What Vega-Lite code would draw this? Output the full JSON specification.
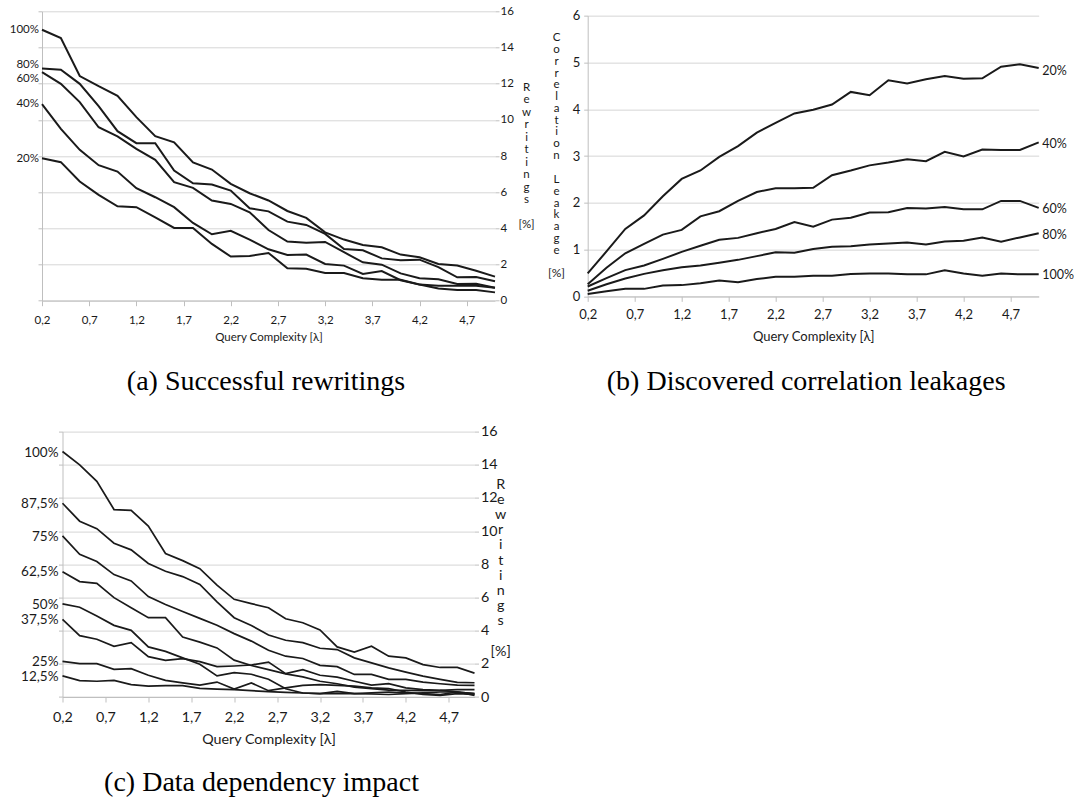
{
"$schema":"https://vega.github.io/schema/vega-lite/v6.json",
"background":"white",
"padding":{"left":9,"top":5,"right":0,"bottom":0},
"config":{"view":{"stroke":null},"font":"Lato","axis":{"labelFont":"Lato","titleFont":"Lato","labelColor":"#1a1a1a","titleColor":"#1a1a1a","titleFontWeight":"normal"}},
"columns":2,
"spacing":{"row":130.6,"column":92.7},
"bounds":"flush",
"center":true,
"datasets":{
"a":[
{"x":0.2,"s":"100%","v":14.98},{"x":0.4,"s":"100%","v":14.52},{"x":0.6,"s":"100%","v":12.42},{"x":0.8,"s":"100%","v":11.86},{"x":1.0,"s":"100%","v":11.33},{"x":1.2,"s":"100%","v":10.15},{"x":1.4,"s":"100%","v":9.10},{"x":1.6,"s":"100%","v":8.76},{"x":1.8,"s":"100%","v":7.64},{"x":2.0,"s":"100%","v":7.25},{"x":2.2,"s":"100%","v":6.46},{"x":2.4,"s":"100%","v":5.94},{"x":2.6,"s":"100%","v":5.54},{"x":2.8,"s":"100%","v":4.96},{"x":3.0,"s":"100%","v":4.58},{"x":3.2,"s":"100%","v":3.78},{"x":3.4,"s":"100%","v":3.38},{"x":3.6,"s":"100%","v":3.08},{"x":3.8,"s":"100%","v":2.95},{"x":4.0,"s":"100%","v":2.55},{"x":4.2,"s":"100%","v":2.40},{"x":4.4,"s":"100%","v":2.03},{"x":4.6,"s":"100%","v":1.94},{"x":4.8,"s":"100%","v":1.66},{"x":5.0,"s":"100%","v":1.33},
{"x":0.2,"s":"80%","v":12.84},{"x":0.4,"s":"80%","v":12.77},{"x":0.6,"s":"80%","v":11.99},{"x":0.8,"s":"80%","v":10.76},{"x":1.0,"s":"80%","v":9.37},{"x":1.2,"s":"80%","v":8.71},{"x":1.4,"s":"80%","v":8.71},{"x":1.6,"s":"80%","v":7.20},{"x":1.8,"s":"80%","v":6.49},{"x":2.0,"s":"80%","v":6.42},{"x":2.2,"s":"80%","v":6.09},{"x":2.4,"s":"80%","v":5.11},{"x":2.6,"s":"80%","v":4.94},{"x":2.8,"s":"80%","v":4.37},{"x":3.0,"s":"80%","v":4.19},{"x":3.2,"s":"80%","v":3.69},{"x":3.4,"s":"80%","v":2.86},{"x":3.6,"s":"80%","v":2.79},{"x":3.8,"s":"80%","v":2.34},{"x":4.0,"s":"80%","v":2.23},{"x":4.2,"s":"80%","v":2.27},{"x":4.4,"s":"80%","v":1.86},{"x":4.6,"s":"80%","v":1.29},{"x":4.8,"s":"80%","v":1.31},{"x":5.0,"s":"80%","v":1.07},
{"x":0.2,"s":"60%","v":12.64},{"x":0.4,"s":"60%","v":11.99},{"x":0.6,"s":"60%","v":10.98},{"x":0.8,"s":"60%","v":9.59},{"x":1.0,"s":"60%","v":9.08},{"x":1.2,"s":"60%","v":8.39},{"x":1.4,"s":"60%","v":7.79},{"x":1.6,"s":"60%","v":6.55},{"x":1.8,"s":"60%","v":6.24},{"x":2.0,"s":"60%","v":5.54},{"x":2.2,"s":"60%","v":5.35},{"x":2.4,"s":"60%","v":4.89},{"x":2.6,"s":"60%","v":3.91},{"x":2.8,"s":"60%","v":3.27},{"x":3.0,"s":"60%","v":3.21},{"x":3.2,"s":"60%","v":3.25},{"x":3.4,"s":"60%","v":2.68},{"x":3.6,"s":"60%","v":2.12},{"x":3.8,"s":"60%","v":1.99},{"x":4.0,"s":"60%","v":1.51},{"x":4.2,"s":"60%","v":1.24},{"x":4.4,"s":"60%","v":1.18},{"x":4.6,"s":"60%","v":0.92},{"x":4.8,"s":"60%","v":0.94},{"x":5.0,"s":"60%","v":0.72},
{"x":0.2,"s":"40%","v":10.87},{"x":0.4,"s":"40%","v":9.50},{"x":0.6,"s":"40%","v":8.34},{"x":0.8,"s":"40%","v":7.49},{"x":1.0,"s":"40%","v":7.14},{"x":1.2,"s":"40%","v":6.22},{"x":1.4,"s":"40%","v":5.72},{"x":1.6,"s":"40%","v":5.17},{"x":1.8,"s":"40%","v":4.30},{"x":2.0,"s":"40%","v":3.67},{"x":2.2,"s":"40%","v":3.86},{"x":2.4,"s":"40%","v":3.38},{"x":2.6,"s":"40%","v":2.84},{"x":2.8,"s":"40%","v":2.53},{"x":3.0,"s":"40%","v":2.55},{"x":3.2,"s":"40%","v":2.03},{"x":3.4,"s":"40%","v":1.94},{"x":3.6,"s":"40%","v":1.48},{"x":3.8,"s":"40%","v":1.64},{"x":4.0,"s":"40%","v":1.13},{"x":4.2,"s":"40%","v":0.89},{"x":4.4,"s":"40%","v":0.83},{"x":4.6,"s":"40%","v":0.83},{"x":4.8,"s":"40%","v":0.83},{"x":5.0,"s":"40%","v":0.72},
{"x":0.2,"s":"20%","v":7.88},{"x":0.4,"s":"20%","v":7.66},{"x":0.6,"s":"20%","v":6.59},{"x":0.8,"s":"20%","v":5.85},{"x":1.0,"s":"20%","v":5.22},{"x":1.2,"s":"20%","v":5.17},{"x":1.4,"s":"20%","v":4.61},{"x":1.6,"s":"20%","v":4.02},{"x":1.8,"s":"20%","v":4.02},{"x":2.0,"s":"20%","v":3.14},{"x":2.2,"s":"20%","v":2.44},{"x":2.4,"s":"20%","v":2.47},{"x":2.6,"s":"20%","v":2.64},{"x":2.8,"s":"20%","v":1.79},{"x":3.0,"s":"20%","v":1.77},{"x":3.2,"s":"20%","v":1.53},{"x":3.4,"s":"20%","v":1.53},{"x":3.6,"s":"20%","v":1.24},{"x":3.8,"s":"20%","v":1.16},{"x":4.0,"s":"20%","v":1.16},{"x":4.2,"s":"20%","v":0.90},{"x":4.4,"s":"20%","v":0.68},{"x":4.6,"s":"20%","v":0.59},{"x":4.8,"s":"20%","v":0.59},{"x":5.0,"s":"20%","v":0.46}
],
"la":[
{"x":0.2,"s":"100%","v":14.96},{"x":0.2,"s":"80%","v":13.05},{"x":0.2,"s":"60%","v":12.26},{"x":0.2,"s":"40%","v":10.86},{"x":0.2,"s":"20%","v":7.85}
],
"b":[
{"x":0.2,"s":"20%","v":0.49},{"x":0.4,"s":"20%","v":0.96},{"x":0.6,"s":"20%","v":1.44},{"x":0.8,"s":"20%","v":1.73},{"x":1.0,"s":"20%","v":2.14},{"x":1.2,"s":"20%","v":2.51},{"x":1.4,"s":"20%","v":2.69},{"x":1.6,"s":"20%","v":2.98},{"x":1.8,"s":"20%","v":3.21},{"x":2.0,"s":"20%","v":3.50},{"x":2.2,"s":"20%","v":3.71},{"x":2.4,"s":"20%","v":3.91},{"x":2.6,"s":"20%","v":3.99},{"x":2.8,"s":"20%","v":4.10},{"x":3.0,"s":"20%","v":4.37},{"x":3.2,"s":"20%","v":4.30},{"x":3.4,"s":"20%","v":4.62},{"x":3.6,"s":"20%","v":4.55},{"x":3.8,"s":"20%","v":4.64},{"x":4.0,"s":"20%","v":4.71},{"x":4.2,"s":"20%","v":4.65},{"x":4.4,"s":"20%","v":4.66},{"x":4.6,"s":"20%","v":4.91},{"x":4.8,"s":"20%","v":4.96},{"x":5.0,"s":"20%","v":4.88},
{"x":0.2,"s":"40%","v":0.26},{"x":0.4,"s":"40%","v":0.61},{"x":0.6,"s":"40%","v":0.92},{"x":0.8,"s":"40%","v":1.12},{"x":1.0,"s":"40%","v":1.32},{"x":1.2,"s":"40%","v":1.42},{"x":1.4,"s":"40%","v":1.71},{"x":1.6,"s":"40%","v":1.82},{"x":1.8,"s":"40%","v":2.04},{"x":2.0,"s":"40%","v":2.23},{"x":2.2,"s":"40%","v":2.31},{"x":2.4,"s":"40%","v":2.31},{"x":2.6,"s":"40%","v":2.32},{"x":2.8,"s":"40%","v":2.59},{"x":3.0,"s":"40%","v":2.69},{"x":3.2,"s":"40%","v":2.80},{"x":3.4,"s":"40%","v":2.86},{"x":3.6,"s":"40%","v":2.93},{"x":3.8,"s":"40%","v":2.89},{"x":4.0,"s":"40%","v":3.09},{"x":4.2,"s":"40%","v":2.99},{"x":4.4,"s":"40%","v":3.14},{"x":4.6,"s":"40%","v":3.13},{"x":4.8,"s":"40%","v":3.13},{"x":5.0,"s":"40%","v":3.29},
{"x":0.2,"s":"60%","v":0.21},{"x":0.4,"s":"60%","v":0.39},{"x":0.6,"s":"60%","v":0.56},{"x":0.8,"s":"60%","v":0.66},{"x":1.0,"s":"60%","v":0.80},{"x":1.2,"s":"60%","v":0.95},{"x":1.4,"s":"60%","v":1.08},{"x":1.6,"s":"60%","v":1.21},{"x":1.8,"s":"60%","v":1.25},{"x":2.0,"s":"60%","v":1.35},{"x":2.2,"s":"60%","v":1.44},{"x":2.4,"s":"60%","v":1.59},{"x":2.6,"s":"60%","v":1.49},{"x":2.8,"s":"60%","v":1.64},{"x":3.0,"s":"60%","v":1.68},{"x":3.2,"s":"60%","v":1.79},{"x":3.4,"s":"60%","v":1.80},{"x":3.6,"s":"60%","v":1.89},{"x":3.8,"s":"60%","v":1.88},{"x":4.0,"s":"60%","v":1.91},{"x":4.2,"s":"60%","v":1.86},{"x":4.4,"s":"60%","v":1.86},{"x":4.6,"s":"60%","v":2.04},{"x":4.8,"s":"60%","v":2.04},{"x":5.0,"s":"60%","v":1.89},
{"x":0.2,"s":"80%","v":0.12},{"x":0.4,"s":"80%","v":0.26},{"x":0.6,"s":"80%","v":0.38},{"x":0.8,"s":"80%","v":0.48},{"x":1.0,"s":"80%","v":0.56},{"x":1.2,"s":"80%","v":0.62},{"x":1.4,"s":"80%","v":0.66},{"x":1.6,"s":"80%","v":0.72},{"x":1.8,"s":"80%","v":0.78},{"x":2.0,"s":"80%","v":0.86},{"x":2.2,"s":"80%","v":0.94},{"x":2.4,"s":"80%","v":0.93},{"x":2.6,"s":"80%","v":1.01},{"x":2.8,"s":"80%","v":1.06},{"x":3.0,"s":"80%","v":1.07},{"x":3.2,"s":"80%","v":1.11},{"x":3.4,"s":"80%","v":1.13},{"x":3.6,"s":"80%","v":1.15},{"x":3.8,"s":"80%","v":1.11},{"x":4.0,"s":"80%","v":1.17},{"x":4.2,"s":"80%","v":1.19},{"x":4.4,"s":"80%","v":1.26},{"x":4.6,"s":"80%","v":1.17},{"x":4.8,"s":"80%","v":1.26},{"x":5.0,"s":"80%","v":1.35},
{"x":0.2,"s":"100%","v":0.05},{"x":0.4,"s":"100%","v":0.11},{"x":0.6,"s":"100%","v":0.16},{"x":0.8,"s":"100%","v":0.16},{"x":1.0,"s":"100%","v":0.23},{"x":1.2,"s":"100%","v":0.24},{"x":1.4,"s":"100%","v":0.28},{"x":1.6,"s":"100%","v":0.34},{"x":1.8,"s":"100%","v":0.30},{"x":2.0,"s":"100%","v":0.37},{"x":2.2,"s":"100%","v":0.42},{"x":2.4,"s":"100%","v":0.42},{"x":2.6,"s":"100%","v":0.44},{"x":2.8,"s":"100%","v":0.44},{"x":3.0,"s":"100%","v":0.48},{"x":3.2,"s":"100%","v":0.49},{"x":3.4,"s":"100%","v":0.49},{"x":3.6,"s":"100%","v":0.47},{"x":3.8,"s":"100%","v":0.47},{"x":4.0,"s":"100%","v":0.56},{"x":4.2,"s":"100%","v":0.49},{"x":4.4,"s":"100%","v":0.44},{"x":4.6,"s":"100%","v":0.49},{"x":4.8,"s":"100%","v":0.47},{"x":5.0,"s":"100%","v":0.47}
],
"lb":[
{"x":5.0,"s":"20%","v":4.81},{"x":5.0,"s":"40%","v":3.26},{"x":5.0,"s":"60%","v":1.86},{"x":5.0,"s":"80%","v":1.32},{"x":5.0,"s":"100%","v":0.455}
],
"c":[
{"x":0.2,"s":"100%","v":14.8},{"x":0.4,"s":"100%","v":14.0},{"x":0.6,"s":"100%","v":13.0},{"x":0.8,"s":"100%","v":11.3},{"x":1.0,"s":"100%","v":11.25},{"x":1.2,"s":"100%","v":10.3},{"x":1.4,"s":"100%","v":8.65},{"x":1.6,"s":"100%","v":8.22},{"x":1.8,"s":"100%","v":7.74},{"x":2.0,"s":"100%","v":6.74},{"x":2.2,"s":"100%","v":5.89},{"x":2.4,"s":"100%","v":5.63},{"x":2.6,"s":"100%","v":5.38},{"x":2.8,"s":"100%","v":4.72},{"x":3.0,"s":"100%","v":4.48},{"x":3.2,"s":"100%","v":4.04},{"x":3.4,"s":"100%","v":3.02},{"x":3.6,"s":"100%","v":2.71},{"x":3.8,"s":"100%","v":3.06},{"x":4.0,"s":"100%","v":2.46},{"x":4.2,"s":"100%","v":2.36},{"x":4.4,"s":"100%","v":1.95},{"x":4.6,"s":"100%","v":1.78},{"x":4.8,"s":"100%","v":1.78},{"x":5.0,"s":"100%","v":1.44},
{"x":0.2,"s":"87,5%","v":11.68},{"x":0.4,"s":"87,5%","v":10.6},{"x":0.6,"s":"87,5%","v":10.15},{"x":0.8,"s":"87,5%","v":9.27},{"x":1.0,"s":"87,5%","v":8.87},{"x":1.2,"s":"87,5%","v":8.05},{"x":1.4,"s":"87,5%","v":7.58},{"x":1.6,"s":"87,5%","v":7.26},{"x":1.8,"s":"87,5%","v":6.79},{"x":2.0,"s":"87,5%","v":5.74},{"x":2.2,"s":"87,5%","v":4.78},{"x":2.4,"s":"87,5%","v":4.31},{"x":2.6,"s":"87,5%","v":3.74},{"x":2.8,"s":"87,5%","v":3.42},{"x":3.0,"s":"87,5%","v":3.28},{"x":3.2,"s":"87,5%","v":2.94},{"x":3.4,"s":"87,5%","v":2.86},{"x":3.6,"s":"87,5%","v":2.36},{"x":3.8,"s":"87,5%","v":2.06},{"x":4.0,"s":"87,5%","v":1.76},{"x":4.2,"s":"87,5%","v":1.50},{"x":4.4,"s":"87,5%","v":1.26},{"x":4.6,"s":"87,5%","v":1.06},{"x":4.8,"s":"87,5%","v":0.88},{"x":5.0,"s":"87,5%","v":0.86},
{"x":0.2,"s":"75%","v":9.71},{"x":0.4,"s":"75%","v":8.6},{"x":0.6,"s":"75%","v":8.17},{"x":0.8,"s":"75%","v":7.38},{"x":1.0,"s":"75%","v":7.0},{"x":1.2,"s":"75%","v":6.05},{"x":1.4,"s":"75%","v":5.58},{"x":1.6,"s":"75%","v":5.15},{"x":1.8,"s":"75%","v":4.74},{"x":2.0,"s":"75%","v":4.33},{"x":2.2,"s":"75%","v":3.82},{"x":2.4,"s":"75%","v":3.37},{"x":2.6,"s":"75%","v":2.82},{"x":2.8,"s":"75%","v":2.46},{"x":3.0,"s":"75%","v":2.32},{"x":3.2,"s":"75%","v":1.91},{"x":3.4,"s":"75%","v":1.83},{"x":3.6,"s":"75%","v":1.36},{"x":3.8,"s":"75%","v":1.36},{"x":4.0,"s":"75%","v":1.06},{"x":4.2,"s":"75%","v":1.06},{"x":4.4,"s":"75%","v":0.90},{"x":4.6,"s":"75%","v":0.80},{"x":4.8,"s":"75%","v":0.72},{"x":5.0,"s":"75%","v":0.70},
{"x":0.2,"s":"62,5%","v":7.55},{"x":0.4,"s":"62,5%","v":6.96},{"x":0.6,"s":"62,5%","v":6.85},{"x":0.8,"s":"62,5%","v":5.99},{"x":1.0,"s":"62,5%","v":5.38},{"x":1.2,"s":"62,5%","v":4.78},{"x":1.4,"s":"62,5%","v":4.78},{"x":1.6,"s":"62,5%","v":3.62},{"x":1.8,"s":"62,5%","v":3.31},{"x":2.0,"s":"62,5%","v":2.96},{"x":2.2,"s":"62,5%","v":2.22},{"x":2.4,"s":"62,5%","v":1.90},{"x":2.6,"s":"62,5%","v":1.65},{"x":2.8,"s":"62,5%","v":1.39},{"x":3.0,"s":"62,5%","v":1.21},{"x":3.2,"s":"62,5%","v":0.95},{"x":3.4,"s":"62,5%","v":0.80},{"x":3.6,"s":"62,5%","v":0.60},{"x":3.8,"s":"62,5%","v":0.50},{"x":4.0,"s":"62,5%","v":0.42},{"x":4.2,"s":"62,5%","v":0.40},{"x":4.4,"s":"62,5%","v":0.38},{"x":4.6,"s":"62,5%","v":0.40},{"x":4.8,"s":"62,5%","v":0.45},{"x":5.0,"s":"62,5%","v":0.45},
{"x":0.2,"s":"50%","v":5.61},{"x":0.4,"s":"50%","v":5.41},{"x":0.6,"s":"50%","v":4.88},{"x":0.8,"s":"50%","v":4.32},{"x":1.0,"s":"50%","v":4.02},{"x":1.2,"s":"50%","v":3.02},{"x":1.4,"s":"50%","v":2.75},{"x":1.6,"s":"50%","v":2.36},{"x":1.8,"s":"50%","v":1.97},{"x":2.0,"s":"50%","v":1.27},{"x":2.2,"s":"50%","v":1.47},{"x":2.4,"s":"50%","v":1.37},{"x":2.6,"s":"50%","v":1.07},{"x":2.8,"s":"50%","v":0.50},{"x":3.0,"s":"50%","v":0.24},{"x":3.2,"s":"50%","v":0.20},{"x":3.4,"s":"50%","v":0.34},{"x":3.6,"s":"50%","v":0.20},{"x":3.8,"s":"50%","v":0.25},{"x":4.0,"s":"50%","v":0.30},{"x":4.2,"s":"50%","v":0.25},{"x":4.4,"s":"50%","v":0.20},{"x":4.6,"s":"50%","v":0.15},{"x":4.8,"s":"50%","v":0.30},{"x":5.0,"s":"50%","v":0.20},
{"x":0.2,"s":"37,5%","v":4.68},{"x":0.4,"s":"37,5%","v":3.70},{"x":0.6,"s":"37,5%","v":3.48},{"x":0.8,"s":"37,5%","v":3.06},{"x":1.0,"s":"37,5%","v":3.28},{"x":1.2,"s":"37,5%","v":2.43},{"x":1.4,"s":"37,5%","v":2.21},{"x":1.6,"s":"37,5%","v":2.31},{"x":1.8,"s":"37,5%","v":2.13},{"x":2.0,"s":"37,5%","v":1.83},{"x":2.2,"s":"37,5%","v":1.87},{"x":2.4,"s":"37,5%","v":1.93},{"x":2.6,"s":"37,5%","v":2.10},{"x":2.8,"s":"37,5%","v":1.41},{"x":3.0,"s":"37,5%","v":1.65},{"x":3.2,"s":"37,5%","v":1.31},{"x":3.4,"s":"37,5%","v":1.20},{"x":3.6,"s":"37,5%","v":0.95},{"x":3.8,"s":"37,5%","v":0.72},{"x":4.0,"s":"37,5%","v":0.80},{"x":4.2,"s":"37,5%","v":0.55},{"x":4.4,"s":"37,5%","v":0.45},{"x":4.6,"s":"37,5%","v":0.40},{"x":4.8,"s":"37,5%","v":0.30},{"x":5.0,"s":"37,5%","v":0.10},
{"x":0.2,"s":"25%","v":2.15},{"x":0.4,"s":"25%","v":2.01},{"x":0.6,"s":"25%","v":2.01},{"x":0.8,"s":"25%","v":1.67},{"x":1.0,"s":"25%","v":1.71},{"x":1.2,"s":"25%","v":1.31},{"x":1.4,"s":"25%","v":1.0},{"x":1.6,"s":"25%","v":0.85},{"x":1.8,"s":"25%","v":0.72},{"x":2.0,"s":"25%","v":0.90},{"x":2.2,"s":"25%","v":0.48},{"x":2.4,"s":"25%","v":0.85},{"x":2.6,"s":"25%","v":0.38},{"x":2.8,"s":"25%","v":0.55},{"x":3.0,"s":"25%","v":0.70},{"x":3.2,"s":"25%","v":0.75},{"x":3.4,"s":"25%","v":0.70},{"x":3.6,"s":"25%","v":0.65},{"x":3.8,"s":"25%","v":0.55},{"x":4.0,"s":"25%","v":0.50},{"x":4.2,"s":"25%","v":0.30},{"x":4.4,"s":"25%","v":0.15},{"x":4.6,"s":"25%","v":0.10},{"x":4.8,"s":"25%","v":0.20},{"x":5.0,"s":"25%","v":0.15},
{"x":0.2,"s":"12,5%","v":1.27},{"x":0.4,"s":"12,5%","v":0.99},{"x":0.6,"s":"12,5%","v":0.95},{"x":0.8,"s":"12,5%","v":1.0},{"x":1.0,"s":"12,5%","v":0.75},{"x":1.2,"s":"12,5%","v":0.65},{"x":1.4,"s":"12,5%","v":0.69},{"x":1.6,"s":"12,5%","v":0.69},{"x":1.8,"s":"12,5%","v":0.52},{"x":2.0,"s":"12,5%","v":0.48},{"x":2.2,"s":"12,5%","v":0.44},{"x":2.4,"s":"12,5%","v":0.38},{"x":2.6,"s":"12,5%","v":0.32},{"x":2.8,"s":"12,5%","v":0.28},{"x":3.0,"s":"12,5%","v":0.24},{"x":3.2,"s":"12,5%","v":0.20},{"x":3.4,"s":"12,5%","v":0.22},{"x":3.6,"s":"12,5%","v":0.20},{"x":3.8,"s":"12,5%","v":0.18},{"x":4.0,"s":"12,5%","v":0.15},{"x":4.2,"s":"12,5%","v":0.20},{"x":4.4,"s":"12,5%","v":0.25},{"x":4.6,"s":"12,5%","v":0.30},{"x":4.8,"s":"12,5%","v":0.30},{"x":5.0,"s":"12,5%","v":0.20}
],
"lc":[
{"x":0.2,"s":"100%","v":14.7},{"x":0.2,"s":"87,5%","v":11.63},{"x":0.2,"s":"75%","v":9.67},{"x":0.2,"s":"62,5%","v":7.53},{"x":0.2,"s":"50%","v":5.52},{"x":0.2,"s":"37,5%","v":4.63},{"x":0.2,"s":"25%","v":2.14},{"x":0.2,"s":"12,5%","v":1.2}
]
},
"concat":[
{
"width":453,"height":289.4,
"title":{"text":"(a) Successful rewritings","orient":"bottom","anchor":"middle","frame":"group","font":"Liberation Serif","fontSize":28,"fontWeight":"normal","color":"#000000","offset":25,"dx":-2.5},
"encoding":{"x":{"field":"x","type":"quantitative","scale":{"domain":[0.2,5.0],"nice":false,"zero":false},"axis":{"values":[0.2,0.7,1.2,1.7,2.2,2.7,3.2,3.7,4.2,4.7],"labelExpr":"replace(format(datum.value,'.1f'),'.',',')","grid":false,"domainColor":"#bfbfbf","tickColor":"#bfbfbf","tickSize":5,"labelPadding":9,"labelFontSize":11.5,"labelFlush":false,"labelOverlap":false,"title":"Query Complexity [λ]","titleFontSize":11.5,"titlePadding":5}}},
"layer":[
{"data":{"name":"a"},"mark":{"type":"line","color":"#1a1a1a","strokeWidth":2},
"encoding":{"y":{"field":"v","type":"quantitative","scale":{"domain":[0,16],"nice":false},"axis":{"orient":"left","values":[0,2,4,6,8,10,12,14,16],"labels":false,"grid":true,"gridColor":"#d6d6d6","domainColor":"#bfbfbf","tickColor":"#bfbfbf","tickSize":4,"title":"[%]","titleAngle":0,"titleAlign":"center","titleBaseline":"middle","titleX":484,"titleY":212.7,"titleFontSize":11.5}},"detail":{"field":"s","type":"nominal"}}},
{"data":{"name":"la"},"mark":{"type":"text","align":"right","baseline":"middle","dx":-3,"font":"Lato","fontSize":11.5,"color":"#1a1a1a"},
"encoding":{"y":{"field":"v","type":"quantitative","scale":{"domain":[0,16],"nice":false},"axis":{"orient":"right","values":[0,2,4,6,8,10,12,14,16],"grid":false,"domain":false,"tickColor":"#bfbfbf","tickSize":4,"labelPadding":1,"labelFontSize":11.5,"title":["R","e","w","r","i","t","i","n","g","s"],"titleAngle":0,"titleAlign":"center","titleBaseline":"top","titleX":31,"titleY":70,"titleLineHeight":12.5,"titleFontSize":11.5}},"text":{"field":"s"}}}
],
"resolve":{"axis":{"y":"independent"}}
},
{
"width":451,"height":280.7,
"title":{"text":"(b) Discovered correlation leakages","orient":"bottom","anchor":"middle","frame":"group","font":"Liberation Serif","fontSize":28,"fontWeight":"normal","color":"#000000","offset":25,"dx":-7},
"layer":[
{"data":{"name":"b"},"mark":{"type":"line","color":"#1a1a1a","strokeWidth":2},
"encoding":{
"x":{"field":"x","type":"quantitative","scale":{"domain":[0.2,5.0],"nice":false,"zero":false},"axis":{"values":[0.2,0.7,1.2,1.7,2.2,2.7,3.2,3.7,4.2,4.7],"labelExpr":"replace(format(datum.value,'.1f'),'.',',')","grid":false,"domainColor":"#bfbfbf","tickColor":"#bfbfbf","tickSize":5,"labelPadding":7,"labelFontSize":13,"labelFlush":false,"labelOverlap":false,"title":"Query Complexity [λ]","titleFontSize":13,"titlePadding":9}},
"y":{"field":"v","type":"quantitative","scale":{"domain":[0,6],"nice":false},"axis":{"orient":"left","values":[0,1,2,3,4,5,6],"grid":true,"gridColor":"#d6d6d6","domainColor":"#bfbfbf","tickColor":"#bfbfbf","tickSize":4,"labelPadding":4,"labelFontSize":13,"title":["C","o","r","r","e","l","a","t","i","o","n"],"titleAngle":0,"titleAlign":"center","titleBaseline":"top","titleX":-31.7,"titleY":16.3,"titleLineHeight":11.75,"titleFontSize":11.5}},
"detail":{"field":"s","type":"nominal"}}},
{"data":{"name":"lb"},"mark":{"type":"text","align":"left","baseline":"middle","dx":3.5,"font":"Lato","fontSize":12.5,"color":"#1a1a1a"},
"encoding":{
"x":{"field":"x","type":"quantitative","scale":{"domain":[0.2,5.0],"nice":false,"zero":false},"axis":{"orient":"top","labels":false,"ticks":false,"domain":false,"grid":false,"title":"[%]","titleAngle":0,"titleAlign":"center","titleBaseline":"middle","titleX":-31.7,"titleY":256.7,"titleFontSize":12}},
"y":{"field":"v","type":"quantitative","scale":{"domain":[0,6],"nice":false},"axis":{"orient":"right","labels":false,"ticks":false,"domain":false,"grid":false,"title":["L","e","a","k","a","g","e"],"titleAngle":0,"titleAlign":"center","titleBaseline":"top","titleX":-482.7,"titleY":158,"titleLineHeight":11.75,"titleFontSize":11.5}},
"text":{"field":"s"}}}
],
"resolve":{"axis":{"x":"independent","y":"independent"}}
},
{
"width":412,"height":265.4,
"title":{"text":"(c) Data dependency impact","orient":"bottom","anchor":"middle","frame":"group","font":"Liberation Serif","fontSize":28,"fontWeight":"normal","color":"#000000","offset":22,"dx":-7},
"encoding":{"x":{"field":"x","type":"quantitative","scale":{"domain":[0.2,5.0],"nice":false,"zero":false},"axis":{"values":[0.2,0.7,1.2,1.7,2.2,2.7,3.2,3.7,4.2,4.7],"labelExpr":"replace(format(datum.value,'.1f'),'.',',')","grid":false,"domainColor":"#bfbfbf","tickColor":"#bfbfbf","tickSize":5,"labelPadding":8,"labelFontSize":14.3,"labelFlush":false,"labelOverlap":false,"title":"Query Complexity [λ]","titleFontSize":14.3,"titlePadding":8}}},
"layer":[
{"data":{"name":"c"},"mark":{"type":"line","color":"#1a1a1a","strokeWidth":1.7},
"encoding":{"y":{"field":"v","type":"quantitative","scale":{"domain":[0,16],"nice":false},"axis":{"orient":"left","values":[0,2,4,6,8,10,12,14,16],"labels":false,"grid":true,"gridColor":"#d6d6d6","domainColor":"#bfbfbf","tickColor":"#bfbfbf","tickSize":4,"title":"[%]","titleAngle":0,"titleAlign":"center","titleBaseline":"middle","titleX":437.7,"titleY":219.4,"titleFontSize":14.3}},"detail":{"field":"s","type":"nominal"}}},
{"data":{"name":"lc"},"mark":{"type":"text","align":"right","baseline":"middle","dx":-4,"font":"Lato","fontSize":13.5,"color":"#1a1a1a"},
"encoding":{"y":{"field":"v","type":"quantitative","scale":{"domain":[0,16],"nice":false},"axis":{"orient":"right","values":[0,2,4,6,8,10,12,14,16],"grid":false,"domain":false,"tickColor":"#bfbfbf","tickSize":4,"labelPadding":2,"labelFontSize":14.3,"title":["R","e","w","r","i","t","i","n","g","s"],"titleAngle":0,"titleAlign":"center","titleBaseline":"top","titleX":25.7,"titleY":45.6,"titleLineHeight":15.2,"titleFontSize":14.3}},"text":{"field":"s"}}}
],
"resolve":{"axis":{"y":"independent"}}
}
]
}
